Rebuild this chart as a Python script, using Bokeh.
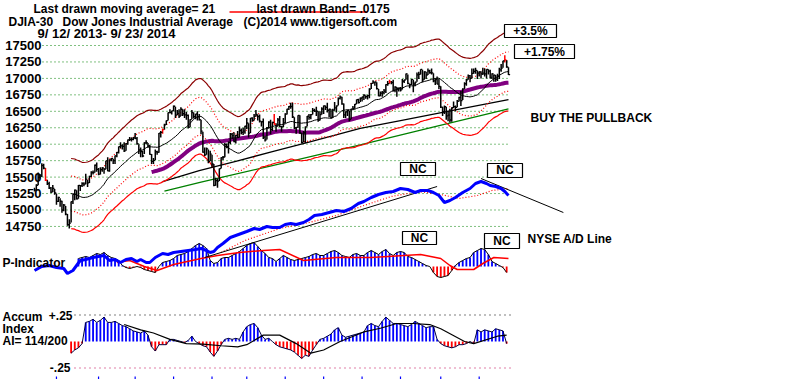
import numpy as np
import pandas as pd
from bokeh.plotting import figure
from bokeh.models import Range1d
from bokeh.core.properties import value
from bokeh.embed import file_html
from bokeh.resources import INLINE

# ---------------- data ----------------
close = [15301, 15376, 15494, 15529, 15676, 15636, 15452, 15401, 15334, 15273, 15328, 15258, 15130,
         15191, 15133, 14997, 15073, 14936, 14776, 14802, 15126, 15237, 15301, 15168, 15373, 15371, 15400, 15392, 15468, 15413, 15510, 15570, 15569, 15680, 15618, 15546,
         15615, 15639, 15618, 15747, 15594, 15762, 15784, 15751, 15822, 15876, 15962, 15976, 15968, 15900, 16010, 16065, 16073, 16073, 16097, 16086,
         16008, 15915, 15889, 15821, 16020, 16025, 15973, 15844, 15739, 15755, 15885, 15875, 16168, 16179, 16221, 16294, 16358, 16479, 16479, 16505, 16577,
         16441, 16469, 16425, 16531, 16463, 16445, 16437, 16257, 16374, 16482, 16418, 16459, 16414, 16374, 16198, 15880, 15838, 15929, 15739, 15849, 15699,
         15373, 15445, 15440, 15628, 15795, 15802, 15994, 15964, 16027, 16154, 16130, 16041, 16133, 16104, 16208, 16180, 16198, 16273, 16322,
         16168, 16396, 16361, 16422, 16453, 16419, 16351, 16341, 16109, 16066, 16247, 16337, 16222, 16331, 16303, 16276, 16368, 16268, 16264, 16323, 16458,
         16533, 16573, 16573, 16413, 16246, 16256, 16438, 16170, 16027, 16174, 16263, 16425, 16409, 16449, 16514, 16502, 16501, 16361, 16449, 16535, 16581,
         16559, 16513, 16531, 16401, 16519, 16551, 16583, 16695, 16716, 16614, 16447, 16492, 16512, 16375, 16533, 16543, 16607, 16676, 16633, 16698, 16717,
         16744, 16722, 16738, 16837, 16924, 16943, 16945, 16844, 16735, 16776, 16782, 16808, 16906, 16921, 16947, 16938, 16818, 16868, 16846, 16852, 16827,
         16957, 16976, 17068, 16925, 16906, 16985, 16915, 16944, 17055, 17060, 17138, 16977, 17100, 17052, 17114, 17087, 17084, 16961, 16983, 16912, 16880, 16563,
         16493, 16569, 16430, 16443, 16368, 16554, 16570, 16561, 16651, 16713, 16663, 16838, 16919, 16979, 17040, 17001, 17077, 17107, 17122, 17080, 17098,
         17068, 17079, 17069, 17138, 17112, 17014, 17068, 17050, 16988, 17032, 17131, 17157, 17266, 17280, 17173, 17056]
high = [15340, 15390, 15570, 15540, 15709, 15703, 15640, 15460, 15430, 15350, 15380, 15320, 15250,
        15200, 15180, 15140, 15090, 15060, 14940, 14860, 15130, 15240, 15310, 15300, 15380, 15380, 15420, 15420, 15550, 15460, 15520, 15590, 15600, 15690, 15720, 15640,
        15650, 15650, 15640, 15750, 15800, 15770, 15790, 15780, 15830, 15880, 15965, 16030, 16000, 16030, 16020, 16070, 16110, 16100, 16110, 16170,
        16110, 16000, 15950, 15900, 16030, 16060, 16020, 15990, 15850, 15790, 15920, 15900, 16170, 16200, 16240, 16310, 16360, 16480, 16530, 16510, 16590,
        16570, 16520, 16530, 16560, 16530, 16530, 16490, 16450, 16380, 16520, 16480, 16460, 16500, 16460, 16370, 16190, 15950, 15950, 15920, 15900, 15840,
        15700, 15490, 15480, 15630, 15800, 15820, 16020, 16010, 16040, 16170, 16170, 16180, 16140, 16200, 16270, 16240, 16250, 16280, 16400,
        16320, 16400, 16410, 16460, 16520, 16450, 16450, 16350, 16390, 16130, 16260, 16350, 16370, 16340, 16460, 16320, 16400, 16430, 16280, 16400, 16470,
        16540, 16580, 16630, 16630, 16410, 16260, 16440, 16440, 16170, 16200, 16270, 16430, 16460, 16460, 16550, 16540, 16570, 16500, 16500, 16560, 16590,
        16590, 16630, 16540, 16530, 16540, 16640, 16590, 16710, 16740, 16720, 16620, 16500, 16520, 16510, 16540, 16580, 16610, 16680, 16690, 16710, 16720,
        16760, 16740, 16750, 16850, 16930, 16970, 16950, 16940, 16840, 16800, 16810, 16840, 16910, 16960, 16980, 16960, 16980, 16880, 16870, 16860, 16870,
        16990, 16980, 17074, 17060, 16920, 16990, 16980, 16950, 17090, 17100, 17140, 17130, 17110, 17100, 17150, 17130, 17150, 17080, 17000, 17030, 16990, 16880,
        16570, 16590, 16570, 16510, 16540, 16560, 16650, 16590, 16670, 16720, 16810, 16850, 16940, 16990, 17060, 17050, 17150, 17150, 17160, 17120, 17110,
        17110, 17160, 17150, 17140, 17140, 17130, 17080, 17060, 17050, 17070, 17160, 17220, 17270, 17350, 17280, 17170]
low = [15280, 15300, 15376, 15480, 15500, 15620, 15440, 15380, 15320, 15260, 15275, 15230, 15080,
       15120, 15050, 14960, 14980, 14920, 14760, 14720, 14810, 15090, 15150, 15160, 15170, 15290, 15350, 15360, 15390, 15350, 15410, 15500, 15540, 15570, 15580, 15530,
       15540, 15580, 15550, 15620, 15590, 15580, 15740, 15700, 15700, 15800, 15860, 15940, 15920, 15880, 15900, 15990, 16050, 16040, 16060, 16080,
       15990, 15850, 15800, 15800, 15850, 16000, 15950, 15840, 15700, 15700, 15760, 15840, 15870, 16100, 16160, 16220, 16290, 16360, 16470, 16450, 16500,
       16400, 16440, 16400, 16430, 16430, 16400, 16370, 16240, 16260, 16380, 16390, 16380, 16360, 16360, 16150, 15870, 15820, 15840, 15710, 15740, 15640,
       15360, 15370, 15340, 15440, 15630, 15760, 15800, 15940, 15860, 16000, 16080, 16030, 16010, 16090, 16100, 16150, 16140, 16160, 16230,
       16100, 16170, 16340, 16360, 16420, 16360, 16330, 16270, 16080, 16040, 16070, 16240, 16150, 16200, 16300, 16190, 16270, 16260, 16190, 16260, 16320,
       16450, 16520, 16540, 16400, 16230, 16160, 16250, 16160, 16010, 16030, 16020, 16270, 16370, 16380, 16450, 16490, 16430, 16340, 16360, 16450, 16460,
       16520, 16480, 16410, 16390, 16400, 16510, 16480, 16590, 16680, 16600, 16400, 16400, 16430, 16350, 16380, 16530, 16540, 16610, 16620, 16640, 16650,
       16670, 16690, 16680, 16700, 16840, 16920, 16890, 16830, 16730, 16730, 16720, 16760, 16780, 16890, 16920, 16910, 16800, 16790, 16720, 16800, 16800,
       16830, 16930, 16980, 16910, 16850, 16900, 16790, 16880, 16950, 16990, 17060, 16940, 16980, 16990, 17050, 17070, 17060, 16940, 16900, 16910, 16840, 16550,
       16430, 16460, 16370, 16350, 16330, 16340, 16550, 16500, 16560, 16650, 16580, 16670, 16840, 16890, 16980, 16940, 17000, 17070, 17070, 16990, 17030,
       17000, 17050, 17030, 17000, 17060, 17000, 16990, 16950, 16950, 16960, 16990, 17100, 17160, 17240, 17160, 17050]
red_bar_days = [6, 70, 131, 194, 257]
price_ticks = [17500, 17250, 17000, 16750, 16500, 16250, 16000, 15750, 15500, 15250, 15000, 14750]
ma_window = 21
band_inner = 0.0175
band_outer = 0.035
mid_ma_window = 65

long_black_days = [70, 90, 110, 130, 150, 178, 200, 230, 259]
long_black_vals = [15433, 15600, 15740, 15886, 16032, 16239, 16357, 16520, 16679]
long_green_days = [71, 91, 130, 178, 220, 259]
long_green_vals = [15286, 15423, 15676, 15991, 16274, 16538]

ad_days = [0, 4, 8, 12, 16, 18, 21, 23, 25, 28, 32, 35, 38, 41, 44, 47, 50, 53, 56, 58, 61, 63, 66, 70, 73, 76,
           80, 84, 88, 91, 94, 96, 98, 100, 103, 107, 110, 113, 116, 120, 123, 127, 130, 134, 137, 140, 143, 147,
           150, 153, 157, 161, 165, 169, 173, 177, 180, 184, 188, 192, 196, 200, 204, 208, 211, 215, 218, 221, 224,
           227, 230, 234, 238, 241, 244, 247, 249, 252, 255, 257, 259]
ad_vals = [30, 34, 35, 33, 32, 27, 30, 35, 40, 41, 43, 44, 45, 40, 41, 38, 41, 42, 39, 41, 38, 38, 43, 47, 46, 48,
           49, 50, 51, 52, 50, 48, 49, 53, 57, 63, 65, 67, 69, 72, 71, 74, 73, 73, 76, 77, 76, 78,
           81, 85, 86, 88, 90, 89, 92, 97, 99, 103, 106, 108, 109, 112, 111, 108, 110, 110, 108, 105, 98,
           100, 103, 108, 112, 117, 119, 117, 115, 114, 112, 109, 105]
ad_ma_days = [102, 115, 134, 150, 165, 180, 195, 210, 222, 232, 242, 250, 259]
ad_ma_vals = [48, 60, 72, 78, 85, 95, 104, 109, 106, 102, 105, 110, 112]
ad_trend1_days = [93, 220]
ad_trend1_vals = [43, 114]
ad_trend2_days = [244, 289]
ad_trend2_vals = [122, 88]

p_first_day = 24
p_vals = [8, 9, 10, 9, 11, 13, 12, 14, 11, 9, 8, 6, 1, -1, -2, -1, 0, -1, -3, -4, -5, -6, 0, 4, 5, 6, 8, 11, 12, 13,
          15, 18, 21, 23, 21, 18, 6, 3, 4, 8, 9, 9, 11, 13, 15, 18, 21, 23, 24, 20, 16, 13, 9, 8, 5, 8, 11, 9, 7, 6,
          7, 8, 9, 10, 12, 13, 11, 11, 13, 15, 16, 14, 11, 10, 9, 12, 13, 11, 11, 14, 16, 14, 12, 15, 17, 13, 11, 14, 15, 14,
          10, 9, 7, 5, 3, 1, 0, -6, -10, -11, -10, -9, -4, 1, 4, 6, 8, 9, 14, 16, 18, 17, 12, 5, 3, 1, -1, -6]
p_ma_days = [45, 52, 60, 67, 76, 91, 100, 112, 125, 134, 147, 165, 184, 202, 211, 222, 227, 231, 240, 245, 251, 259]
p_ma_vals = [4, 6, 0, -4, 2, 8, 11, 14, 16, 17, 6, 9, 9, 11, 12, 8, 1, -3, -3, 3, 9, 8]

ai_first_day = 20
ai_vals = [-0.11, -0.08, -0.06, -0.02, 0.18, 0.19, 0.21, 0.18, 0.20, 0.23, 0.18, 0.18, 0.19, 0.17, 0.15, 0.14, 0.12, 0.10,
           0.09, 0.08, 0.10, 0.06, -0.05, -0.09, -0.03, -0.03, -0.03, 0.02, 0.02, 0.01, 0.00, -0.01, 0.01, 0.05, 0.00, -0.02,
           -0.04, -0.05, -0.10, -0.14, -0.09, -0.03, 0.02, 0.03, 0.02, 0.03, 0.02, 0.09, 0.14, 0.16, 0.17, 0.13, 0.06, 0.02,
           0.03, 0.00, -0.03, -0.05, -0.06, -0.07, -0.08, -0.10, -0.13, -0.16, -0.13, -0.14, -0.08, -0.03, 0.02, 0.03, 0.05,
           0.07, 0.11, 0.13, 0.06, 0.04, 0.05, 0.06, 0.07, 0.08, 0.09, 0.15, 0.17, 0.15, 0.14, 0.19, 0.23, 0.20, 0.17, 0.17,
           0.16, 0.15, 0.14, 0.16, 0.19, 0.17, 0.15, 0.13, 0.14, 0.14, 0.02, -0.02, -0.04, -0.05, -0.06, -0.05, -0.03, -0.03,
           -0.02, 0.00, -0.02, 0.11, 0.09, 0.11, 0.10, 0.09, 0.12, 0.11, 0.10, -0.02]
ai_ma_days = [49, 58, 65, 74, 83, 92, 102, 111, 116, 125, 134, 143, 151, 158, 167, 180, 189, 198, 207, 216, 222, 235, 240, 253, 258]
ai_ma_vals = [0.16, 0.11, 0.08, 0.02, -0.02, -0.025, -0.04, -0.05, -0.03, 0.06, 0.06, -0.02, -0.11, -0.08, 0.0, 0.09,
              0.125, 0.17, 0.17, 0.16, 0.12, 0.0, -0.02, 0.05, 0.06]
ai_levels = [0.25, -0.25]
month_end_days = [12, 35, 55, 76, 97, 116, 137, 158, 179, 200, 222, 243]

# ---------------- figure ----------------
FONT = value("Liberation Sans")
n = min(len(close), len(high), len(low))
days = np.arange(n)
c = np.array(close[:n], float)
ma = pd.Series(c).rolling(ma_window).mean().to_numpy()
ma_mid = pd.Series(c).rolling(mid_ma_window).mean().to_numpy()

p = figure(width=800, height=379, x_range=Range1d(-18.58, 418.58), y_range=Range1d(12424.0, 18183.9),
           x_axis_type=None, y_axis_type=None, output_backend="svg", toolbar_location=None,
           min_border=0, background_fill_color="white", border_fill_color="white", outline_line_color=None)
p.grid.visible = False
p.extra_y_ranges = {"ad": Range1d(-79, 300), "pi": Range1d(-113, 266), "ai": Range1d(-0.3585, 3.217)}


def tx(rx):
    return (rx - 34) / 1.83


def ty(ry):
    return 17500 - (ry - 45) / 0.0658


def label(rx, ry, s, size="12px", align="left", color="black"):
    p.text(x=[tx(rx)], y=[ty(ry)], text=[s], text_font=FONT, text_font_style="bold",
           text_font_size=size, text_align=align, text_baseline="middle", text_color=color)


def box(l, r, t, b):
    p.quad(left=[tx(l)], right=[tx(r)], top=[ty(t)], bottom=[ty(b)], fill_color="white",
           line_color="black", line_width=1.2)


# price grid lines and labels
p.segment(x0=[tx(42)] * len(price_ticks), x1=[tx(509)] * len(price_ticks), y0=price_ticks, y1=price_ticks,
          line_color="#008000", line_dash="1 3", line_width=1)
p.text(x=[tx(41)] * len(price_ticks), y=price_ticks, text=[f"{v}" for v in price_ticks], text_font=FONT,
       text_font_style="bold", text_font_size="13px", text_align="right", text_baseline="middle")

# Accum index levels
p.segment(x0=[tx(74)] * 2, x1=[tx(512)] * 2, y0=ai_levels, y1=ai_levels, y_range_name="ai",
          line_color=["black", "#C00050"], line_dash="1 4", line_width=1.2)

# P-indicator histogram
p_days = [p_first_day + 2 * i for i in range(len(p_vals))]
p.vbar(x=p_days, top=p_vals, bottom=0, width=1.0, y_range_name="pi",
       fill_color=["#0000FF" if v >= 0 else "#FF0000" for v in p_vals], line_color=None)
p.line(p_days, p_vals, y_range_name="pi", line_color="black", line_width=1)
p.line(p_ma_days, p_ma_vals, y_range_name="pi", line_color="#FF0000", line_width=1.5)

# Accum index histogram
ai_days = [ai_first_day + 2 * i for i in range(len(ai_vals))]
p.vbar(x=ai_days, top=ai_vals, bottom=0, width=1.0, y_range_name="ai",
       fill_color=["#0000FF" if v >= 0 else "#FF0000" for v in ai_vals], line_color=None)
p.line(ai_days, ai_vals, y_range_name="ai", line_color="#000040", line_width=1)
p.line(ai_ma_days, ai_ma_vals, y_range_name="ai", line_color="black", line_width=1.2)
p.segment(x0=month_end_days, x1=month_end_days, y0=[-0.33] * len(month_end_days), y1=[-0.36] * len(month_end_days),
          y_range_name="ai", line_color="#0000FF", line_width=1.2)

# A/D line
p.line(ad_ma_days, ad_ma_vals, y_range_name="ad", line_color="#FF0000", line_dash="1 2", line_width=1.2)
p.line(ad_trend1_days, ad_trend1_vals, y_range_name="ad", line_color="black", line_width=1)
p.line(ad_trend2_days, ad_trend2_vals, y_range_name="ad", line_color="black", line_width=1)
p.line(ad_days, ad_vals, y_range_name="ad", line_color="#0000FF", line_width=3)

# moving averages and bands
p.line(long_green_days, long_green_vals, line_color="#008000", line_width=1.3)
p.line(long_black_days, long_black_vals, line_color="black", line_width=1.3)
p.line(days, ma_mid, line_color="#800080", line_width=4)
p.line(days, ma * (1 + band_outer), line_color="#8B0000", line_width=1.2)
p.line(days, ma * (1 - band_outer), line_color="#FF0000", line_width=1.2)
p.line(days, ma * (1 + band_inner), line_color="#FF0000", line_dash="1 2", line_width=1.2)
p.line(days, ma * (1 - band_inner), line_color="#FF0000", line_dash="1 2", line_width=1.2)
p.line(days, ma, line_color="black", line_width=1)

# price bars
bar_colors = ["#FF0000" if d in red_bar_days else "black" for d in range(n)]
p.segment(x0=days, x1=days, y0=low[:n], y1=high[:n], line_color=bar_colors, line_width=1.5)
p.segment(x0=days, x1=days + 0.9, y0=c, y1=c, line_color=bar_colors, line_width=1.3)

# titles
label(33, 8, "Last drawn moving average= 21")
p.line([tx(229), tx(367)], [ty(11.5), ty(11.5)], line_color="#FF0000", line_width=1.5)
label(256, 8, "last drawn Band= .0175")
label(8, 21, "DJIA-30")
label(62, 21, "Dow Jones Industrial Average")
label(243, 21, "(C)2014 www.tigersoft.com")
label(37, 33, "9/ 12/ 2013- 9/ 23/ 2014", size="13px")

# boxes
box(504, 556, 24, 37)
label(530, 30.5, "+3.5%", align="center")
box(514, 574, 44, 58)
label(544, 51, "+1.75%", align="center")
label(530, 117, "BUY THE PULLBACK")
box(400, 435, 162, 175)
label(417.5, 168.5, "NC", align="center")
box(487, 522, 163, 177)
label(504.5, 170, "NC", align="center")
box(402, 436, 231, 244)
label(419, 237.5, "NC", align="center")
box(484, 519, 233, 248)
label(501.5, 240.5, "NC", align="center")
label(527, 239, "NYSE A/D Line")
label(2, 263, "P-Indicator")
label(2, 317, "Accum")
label(2, 329, "Index")
label(2, 341, "AI= 114/200")
label(72, 315, "+.25", align="right")
label(70, 367, "-.25", align="right")

open("out.html", "w").write(file_html(p, INLINE))
